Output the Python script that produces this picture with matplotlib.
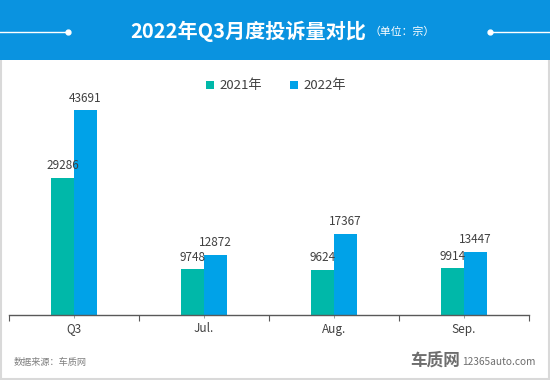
import matplotlib
matplotlib.use("Agg")
import matplotlib.pyplot as plt
from matplotlib.patches import Rectangle
import numpy as np

plt.rcParams['font.family'] = ['Noto Sans CJK SC', 'DejaVu Sans']

categories = ["Q3", "Jul.", "Aug.", "Sep."]
series_names = ["2021年", "2022年"]
values_2021 = [29286, 9748, 9624, 9914]
values_2022 = [43691, 12872, 17367, 13447]
title = "2022年Q3月度投诉量对比"
unit = "（单位：宗）"
source = "数据来源：车质网"

c_green = "#00B8A9"
c_blue = "#00A2E8"
c_head = "#0A93E0"

W, H = 550, 380
fig = plt.figure(figsize=(5.5, 3.8), dpi=100)
fig.patch.set_facecolor("white")

# border
fig.add_artist(Rectangle((0.75/W, 0.75/H), 1-1.5/W, 1-1.5/H, transform=fig.transFigure,
                         fill=False, edgecolor="#D9D9D9", linewidth=1.5))
# header band
fig.add_artist(Rectangle((0, 1-60/H), 1, 60/H, transform=fig.transFigure,
                         facecolor=c_head, edgecolor="none"))
fig.text(248/W, 1-31/H, title, color="white", fontsize=14.5, fontweight="bold",
         ha="center", va="center")
fig.text(402/W, 1-32/H, unit, color="white", fontsize=7.8, ha="center", va="center")
# decorative lines
fig.add_artist(plt.Line2D([0, 68/W], [1-31.5/H, 1-31.5/H], color="white", lw=1,
                          transform=fig.transFigure))
fig.add_artist(plt.Line2D([490/W, 1], [1-31.5/H, 1-31.5/H], color="white", lw=1,
                          transform=fig.transFigure))
fig.add_artist(plt.Line2D([68/W], [1-31.5/H], marker="o", ms=3.5, color="white",
                          transform=fig.transFigure))
fig.add_artist(plt.Line2D([490/W], [1-31.5/H], marker="o", ms=3.5, color="white",
                          transform=fig.transFigure))

ax = fig.add_axes([9/W, 65/H, 520/W, 250/H])
x = np.arange(len(categories))
bw = 0.177
b1 = ax.bar(x - bw/2, values_2021, bw, color=c_green, label=series_names[0])
b2 = ax.bar(x + bw/2, values_2022, bw, color=c_blue, label=series_names[1])
for bars, vals in ((b1, values_2021), (b2, values_2022)):
    for r, v in zip(bars, vals):
        ax.annotate(str(v), (r.get_x() + r.get_width()/2, v), xytext=(0, 4),
                    textcoords="offset points", ha="center", va="bottom",
                    fontsize=8.5, color="#404040")

ax.set_xlim(-0.5, len(categories) - 0.5)
ax.set_ylim(0, 53300)
ax.set_yticks([])
for s in ["top", "right", "left"]:
    ax.spines[s].set_visible(False)
ax.spines["bottom"].set_color("#595959")
ax.spines["bottom"].set_linewidth(1)
ax.set_xticks(np.arange(-0.5, len(categories)))
ax.set_xticks(x, minor=True)
ax.set_xticklabels([])
ax.tick_params(axis="x", which="major", length=4, color="#595959", direction="out")
ax.tick_params(axis="x", which="minor", length=2, color="#8C8C8C", direction="out")
for i, c in enumerate(categories):
    ax.text(i, -0.03, c, transform=ax.get_xaxis_transform(), ha="center", va="top",
            fontsize=8.5, color="#404040")
ax.patch.set_alpha(0)

leg = fig.legend(handles=[b1, b2], labels=series_names, loc="center",
                 bbox_to_anchor=(276/W, 1-86/H), ncol=2, frameon=False,
                 fontsize=9.5, handlelength=0.6, handleheight=0.6, columnspacing=2.1,
                 handletextpad=0.45, labelcolor="#404040")

fig.text(14/W, 1-362/H, source, fontsize=6.6, color="#7F7F7F", ha="left", va="center")
fig.text(460/W, 1-361/H, "车质网", fontsize=12, color="#6E6E6E", ha="right",
         va="center", fontweight="bold")
fig.text(462/W, 1-362/H, "12365auto.com", fontsize=7.3, color="#6E6E6E", ha="left",
         va="center")

fig.savefig("out.png", dpi=100)
